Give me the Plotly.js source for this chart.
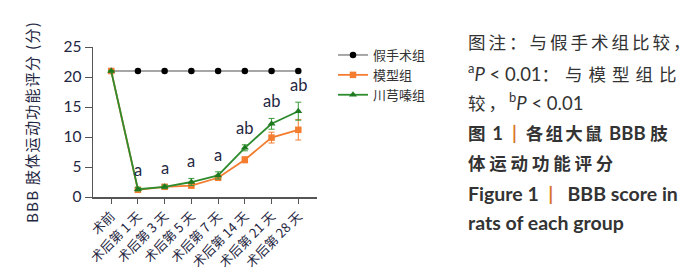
<!DOCTYPE html>
<html>
<head>
<meta charset="utf-8">
<script src="https://cdn.plot.ly/plotly-3.0.1.min.js"></script>
<style>
html,body{margin:0;padding:0;background:#fff;}
#chart{width:700px;height:273px;}
.ytitle{letter-spacing:1.3px;}
</style>
</head>
<body>
<div id="chart"></div>
<script>
// ---- data ----
const categories = ['术前','术后第 1 天','术后第 3 天','术后第 5 天','术后第 7 天','术后第 14 天','术后第 21 天','术后第 28 天'];
const shamName = '假手术组';
const modelName = '模型组';
const tmpName = '川芎嗪组';
const shamValues = [21, 21, 21, 21, 21, 21, 21, 21];
const modelValues = [21, 1.2, 1.7, 1.9, 3.2, 6.2, 9.9, 11.2];
const modelErrors = [0, 0.2, 0.2, 0.4, 0.3, 0.5, 0.9, 1.7];
const tmpValues = [21, 1.3, 1.7, 2.5, 3.6, 8.2, 12.2, 14.3];
const tmpErrors = [0, 0.3, 0.3, 0.6, 0.6, 0.5, 0.9, 1.5];
const sigLabels = ['', 'a', 'a', 'a', 'a', 'ab', 'ab', 'ab'];
const yTicks = [0, 5, 10, 15, 20, 25];
const yTitle = 'BBB 肢体运动功能评分 (分)';
const captionLines = [
  '图注：与假手术组比较，',
  '<sup>a</sup><i>P</i> < 0.01：与模型组比',
  '较，<sup>b</sup><i>P</i> < 0.01',
  '<b>图 1&nbsp;&nbsp;</b><span style="color:#d9772b"><b>|</b></span><b>&nbsp;&nbsp;各组大鼠 BBB 肢</b>',
  '<b>体运动功能评分</b>',
  '<b>Figure 1&nbsp;&nbsp;</b><span style="color:#d9772b"><b>|</b></span><b>&nbsp;&nbsp; BBB score in</b>',
  '<b>rats of each group</b>'
];

// ---- styles ----
const FONT = 'Lato, "Noto Sans CJK SC", sans-serif';
const CJK = '"Noto Sans CJK SC", Lato, sans-serif';
const TXT = '#1f2742';
// per caption line: letter spacing of CJK runs (caption is justified in the reference)
const capSpacing = [3.0, 6.0, 3.0, 2.2, 3.8, 0, 0];
const capSize = 18.5;
const cjkSize = 17.5;

// wrap runs of CJK characters so they get the reference's wide spacing
function spaceCJK(t, sp) {
  return t.replace(/[\u3000-\u303f\u4e00-\u9fff\uff00-\uffef]+/g,
    m => `<span style="font-family:'Noto Sans CJK SC';font-size:${cjkSize}px;letter-spacing:${sp}px">${m}</span>`);
}

const traces = [
  {
    x: categories, y: shamValues, name: shamName, type: 'scatter', mode: 'lines+markers',
    line: {color: '#a6a6a6', width: 2},
    marker: {color: '#000', size: 6.5, symbol: 'circle'}
  },
  {
    x: categories, y: modelValues, name: modelName, type: 'scatter', mode: 'lines+markers',
    line: {color: '#f47d30', width: 1.8},
    marker: {color: '#f47d30', size: 6.5, symbol: 'square'},
    error_y: {type: 'data', array: modelErrors, visible: true, color: '#f47d30', thickness: 1, width: 3}
  },
  {
    x: categories, y: tmpValues, name: tmpName, type: 'scatter', mode: 'lines+markers',
    line: {color: '#2e8b2e', width: 1.8},
    marker: {color: '#1f7a1f', size: 7, symbol: 'triangle-up'},
    error_y: {type: 'data', array: tmpErrors, visible: true, color: '#3a9a3a', thickness: 1, width: 3}
  }
];

const annotations = [];
categories.forEach((c, i) => {
  if (!sigLabels[i]) return;
  annotations.push({
    x: c, y: tmpValues[i] + tmpErrors[i], xref: 'x', yref: 'y',
    text: sigLabels[i], showarrow: false, yanchor: 'bottom', yshift: 5,
    font: {family: FONT, size: 16.5, color: TXT}
  });
});

// caption lines, positioned in paper coords of plot area (x:93..317, y:47..197)
const capX = (466 - 93) / 224;
const capYs = [42, 72.5, 102, 132.5, 162.5, 193, 222];
captionLines.forEach((t, i) => {
  annotations.push({
    x: capX, y: (197 - capYs[i]) / 150, xref: 'paper', yref: 'paper',
    text: capSpacing[i] ? spaceCJK(t, capSpacing[i]) : t,
    showarrow: false, xanchor: 'left', yanchor: 'middle', align: 'left',
    font: {family: FONT, size: i >= 5 ? 19.5 : capSize, color: '#333'}
  });
});

const layout = {
  width: 700, height: 273,
  margin: {l: 93, r: 383, t: 47, b: 76, autoexpand: false},
  paper_bgcolor: '#fff', plot_bgcolor: '#fff',
  font: {family: FONT, color: TXT},
  showlegend: true,
  legend: {
    x: (333 - 93) / 224, y: (197 - 40) / 150,
    xanchor: 'left', yanchor: 'top',
    font: {family: CJK, size: 13, color: '#333'},
    tracegroupgap: 0, itemwidth: 30,
    bgcolor: 'rgba(0,0,0,0)'
  },
  xaxis: {
    type: 'category', range: [-0.68, 7.7],
    showgrid: false, zeroline: false,
    showline: true, linecolor: '#555', linewidth: 1.5,
    ticks: 'outside', ticklen: 5, tickcolor: '#555', tickwidth: 1,
    tickangle: -45, automargin: false,
    tickfont: {family: CJK, size: 13, color: TXT}
  },
  yaxis: {
    range: [0, 25], tickvals: yTicks, automargin: false,
    showgrid: false, zeroline: false,
    showline: true, linecolor: '#555', linewidth: 1.5,
    ticks: 'outside', ticklen: 7, tickcolor: '#555', tickwidth: 1,
    tickfont: {family: FONT, size: 15.5, color: TXT},
    title: {text: yTitle, font: {family: CJK, size: 15, color: TXT}, standoff: 21}
  },
  annotations: annotations
};

Plotly.newPlot('chart', traces, layout, {staticPlot: true, displayModeBar: false});
</script>
</body>
</html>
